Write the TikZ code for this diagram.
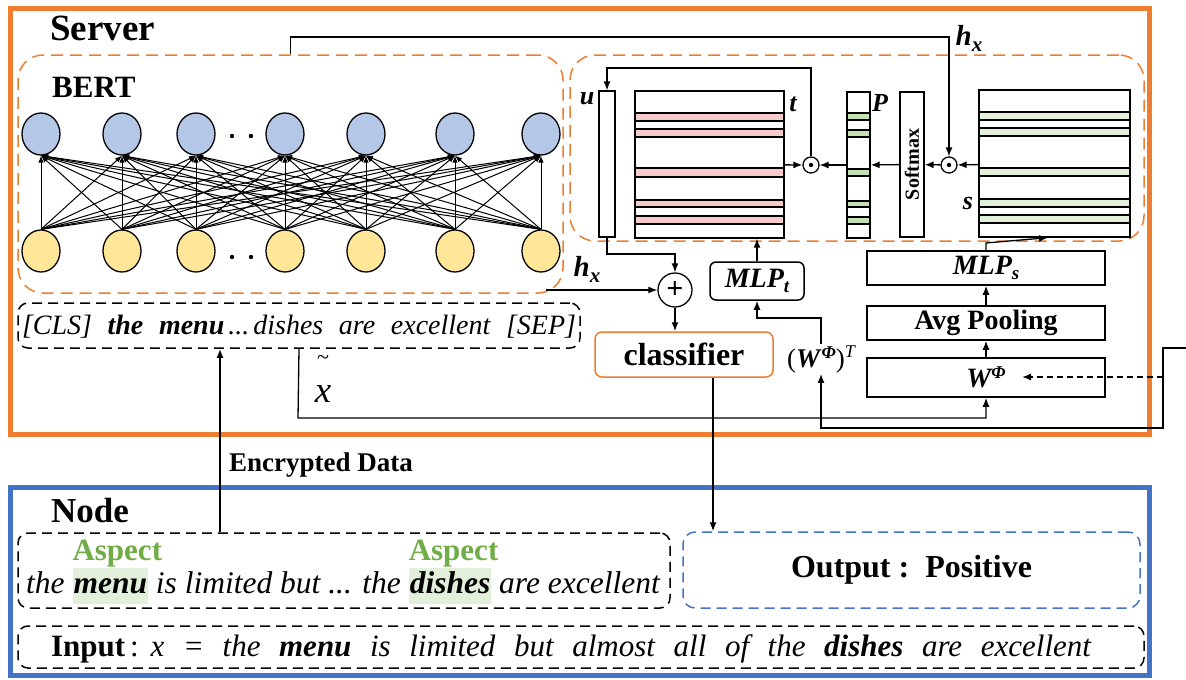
\documentclass[tikz,border=0pt]{standalone}
\usepackage{fontspec}
\setmainfont{Liberation Serif}
\usetikzlibrary{arrows.meta,shapes.geometric,calc}
\definecolor{sorange}{HTML}{ED7D31}
\definecolor{sblue}{HTML}{4472C4}
\definecolor{cblue}{HTML}{B4C7E7}
\definecolor{cyellow}{HTML}{FFE699}
\definecolor{rpink}{HTML}{F8CBCB}
\definecolor{rgreen}{HTML}{C5E0B4}
\definecolor{lgreen}{HTML}{E2F0D9}
\definecolor{agreen}{HTML}{70AD47}
\definecolor{hlgreen}{HTML}{E2EFDA}
\newcommand{\fsz}[1]{\fontsize{#1}{#1}\selectfont}
\newcommand{\hlw}[1]{{\setlength{\fboxsep}{1pt}\colorbox{hlgreen}{\rule[-10pt]{0pt}{34pt}#1}}}
\newcommand{\aspw}[1]{\rlap{\raisebox{33pt}{\upshape\fsz{31}\bfseries\color{agreen}Aspect}}\hlw{\textbf{#1}}}
\begin{document}
\begin{tikzpicture}[x=1pt,y=-1pt,
  arr/.style={-{Latex[length=9pt,width=7pt]}, line width=1.3pt},
  barr/.style={-{Latex[length=7pt,width=5.5pt]}, line width=1.0pt},
  bigbox/.style={draw, line width=5pt, inner sep=0},
  odash/.style={draw=sorange, dash pattern=on 12pt off 7pt, line width=1.5pt, rounded corners=25pt, inner sep=0},
  kdash/.style={draw, dash pattern=on 10pt off 6pt, line width=1.5pt, rounded corners=10pt, inner sep=0},
  neuron/.style={ellipse, draw, line width=1.3pt, minimum width=38pt, minimum height=42pt, inner sep=0},
  mat/.style={draw, line width=1.3pt, inner sep=0},
  opc/.style={circle, draw, line width=1.3pt, minimum size=16pt, inner sep=0},
  sbox/.style={draw, line width=1.5pt, inner sep=0, minimum width=238pt}
]
\useasboundingbox (0,0) rectangle (1186,680);

% outer boxes
\node[bigbox, draw=sorange, minimum width=1139pt, minimum height=426pt] (server) at (579.5,221) {};
\node[bigbox, draw=sblue, minimum width=1139pt, minimum height=188pt] (nodebox) at (579.5,581) {};
\node[anchor=base west, inner sep=0] (servert) at (50,40) {\fsz{37}\bfseries Server};
\node[anchor=base west, inner sep=0] (nodet) at (51,522) {\fsz{35}\bfseries Node};

% BERT
\node[odash, minimum width=545pt, minimum height=238pt] (bert) at (290.5,174) {};
\node[anchor=base west, inner sep=0] (bertt) at (52,97) {\fsz{31}\bfseries BERT};
\foreach \i/\x in {1/41,2/122,3/196,4/285,5/366,6/455,7/541}{
  \node[neuron, fill=cblue] (b\i) at (\x,134) {};
  \node[neuron, fill=cyellow] (y\i) at (\x,251) {};
}
\foreach \i in {1,...,7}{\foreach \j in {1,...,7}{\draw[barr] (y\i.north) -- (b\j.south);}}
\foreach \yy in {136,257}{\fill (232,\yy) circle (2.2pt); \fill (251,\yy) circle (2.2pt);}

% attention block
\node[odash, minimum width=574pt, minimum height=186pt] (attn) at (857,148) {};
\node[mat, minimum width=16pt, minimum height=146pt] (u) at (607,164) {};
\node[mat, minimum width=149pt, minimum height=147pt] (t) at (709.5,164.5) {};
\foreach \a/\b in {113/121,129/137,168/177,200/207,216/224}{\draw[fill=rpink, line width=1.2pt] (635,\a) rectangle (784,\b);}
\node[mat, minimum width=23pt, minimum height=146pt] (P) at (858.5,165) {};
\foreach \a/\b in {113/120,130/137,169/176,201/207,217/224}{\draw[fill=rgreen, line width=1.2pt] (847,\a) rectangle (870,\b);}
\node[mat, rotate=90, minimum width=145pt, minimum height=24pt] (soft) at (912,164.5) {\fsz{20}\bfseries Softmax};
\node[mat, minimum width=151pt, minimum height=147pt] (s) at (1054.5,163.5) {};
\foreach \a/\b in {112/120,128/136,168/176,199/207,215/223}{\draw[fill=lgreen, line width=1.2pt] (979,\a) rectangle (1130,\b);}
\node (ul) at (587,99) {\fsz{26}\bfseries\itshape u};
\node (tl) at (793,104) {\fsz{26}\bfseries\itshape t};
\node (pl) at (880,103) {\fsz{26}\bfseries\itshape P};
\node (sl) at (968,203) {\fsz{26}\bfseries\itshape s};
\node[opc] (o1) at (811,165) {};
\node[opc] (o2) at (949,165) {};
\fill (o1) circle (2.2pt);
\fill (o2) circle (2.2pt);
\draw[arr] (t) -- (o1);
\draw[arr] (P) -- (o1);
\draw[arr] (soft) -- (P);
\draw[arr] (o2) -- (soft);
\draw[arr] (s) -- (o2);
\draw[arr] (o1.north) -- (811,68) -- (607,68) -- (u.north);
\draw[arr] (bert.north) -- (290.5,37) -- (949,37) -- (o2.north);
\node (hx1) at (969,38) {\fsz{29}\bfseries\itshape h\raisebox{-6pt}{\fsz{21}x}};

% combination
\node[circle, draw, line width=1.3pt, minimum size=34pt, inner sep=0] (plus) at (675,290) {\fsz{30}\bfseries +};
\coordinate (hxs) at (546,290);
\draw[arr] (hxs) -- (plus.west);
\node (hx2) at (587,269) {\fsz{29}\bfseries\itshape h\raisebox{-6pt}{\fsz{21}x}};
\draw[arr] (u.south) -- (607,254) -- (675,254) -- (plus.north);
\node[draw=sorange, rounded corners=7pt, line width=1.5pt, minimum width=178pt, minimum height=45pt, inner sep=0] (cls) at (684,354.5) {\fsz{32}\bfseries classifier};
\draw[arr] (plus.south) -- (plus.south |- cls.north);
\node[draw, rounded corners=6pt, line width=1.5pt, minimum width=94pt, minimum height=38pt, inner sep=0] (mlpt) at (757,281) {\fsz{28}\bfseries\itshape MLP\raisebox{-5pt}{\fsz{19}t}};
\draw[arr] (mlpt.north) -- (mlpt.north |- t.south);
\node[inner sep=1pt] (wt) at (821,359) {\fsz{27}(\textbf{\itshape W}\raisebox{9pt}{\fsz{18}\bfseries\itshape Φ})\raisebox{10pt}{\fsz{18}\itshape T}};
\draw[arr] (wt.north) -- (821,318) -- (757,318) -- (mlpt.south);

% right stack
\node[sbox, minimum height=34pt] (mlps) at (986,268) {\fsz{28}\bfseries\itshape MLP\raisebox{-5pt}{\fsz{19}s}};
\node[sbox, minimum height=34pt] (avg) at (986,323) {\fsz{28}\bfseries Avg Pooling};
\node[sbox, minimum height=39pt] (wphi) at (986,377.5) {\fsz{28}\bfseries\itshape W\raisebox{9pt}{\fsz{18}Φ}};
\draw[arr] (wphi.north) -- (avg.south);
\draw[arr] (avg.north) -- (mlps.south);
\draw[arr] (mlps.north) -- (986,243) -- (s.south -| 1048,0);
\coordinate (ext) at (1186,348);
\coordinate (wtip) at (1022,377);
\draw[arr] (ext) -- (1163,348) -- (1163,428) -- (821,428) -- (wt.south);
\draw[arr, dash pattern=on 6pt off 4pt] (1163,377) -- (wtip);

% sequence
\node[kdash, minimum width=562pt, minimum height=45pt] (seq) at (299,325.5) {};
\node[anchor=base, inner sep=0] (seqt) at (299,334) {\fsz{28}\itshape\makebox[554pt][s]{[CLS] \textbf{the} \textbf{menu}\hspace{4pt}...\hspace{4pt}dishes are excellent [SEP]}};
\draw[arr] (seq.south) -- (298,418) -- (986,418) -- (wphi.south);
\node[inner sep=0] (xtil) at (323,360) {\fsz{22}\textasciitilde};
\node[inner sep=0, anchor=base] (xt) at (323,402) {\fsz{37}\itshape x};

% node part
\node[kdash, minimum width=652pt, minimum height=75pt] (asp) at (344,570.5) {};
\node[anchor=base, inner sep=0] (sent) at (343,593) {\fsz{31.5}\itshape the \aspw{menu} is limited but ... the \aspw{dishes} are excellent};
\node[kdash, draw=sblue, rounded corners=12pt, minimum width=457pt, minimum height=76pt] (out) at (911.5,570) {\fsz{32}\bfseries Output :\enspace Positive};
\node[kdash, minimum width=1126pt, minimum height=42pt] (inp) at (581,647) {};
\node[anchor=base, inner sep=0] (inpt) at (571,656) {\fsz{31}\makebox[1040pt][s]{\textbf{Input}\hspace{5pt}:\hspace{12pt}\itshape x = the \textbf{menu} is limited but almost all of the \textbf{dishes} are excellent}};
\coordinate (enc) at (220,0);
\draw[arr, line width=2.2pt] (asp.north -| enc) -- (seq.south -| enc);
\node (enct) at (321,465) {\fsz{27}\bfseries Encrypted Data};
\coordinate (cx) at (713,0);
\draw[arr] (cls.south -| cx) -- (out.north -| cx);
\end{tikzpicture}
\end{document}
